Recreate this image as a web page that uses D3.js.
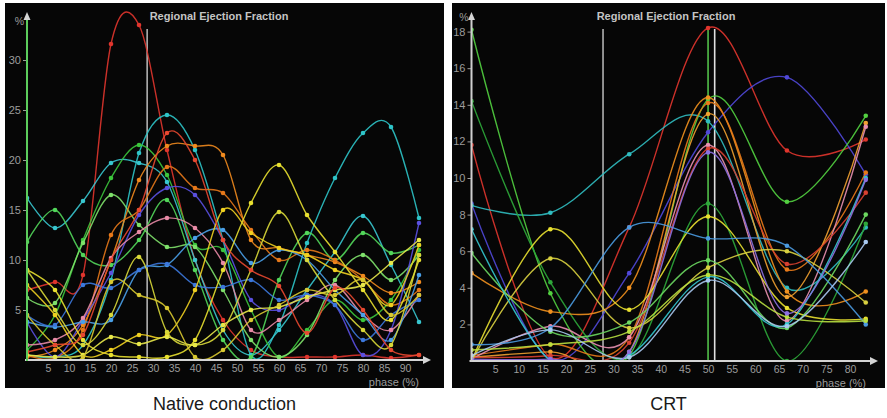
<!DOCTYPE html>
<html>
<head>
<meta charset="utf-8">
<script src="https://cdn.jsdelivr.net/npm/d3@7"></script>
<style>
  body { margin: 0; background: #fff; }
  svg { display: block; }
</style>
</head>
<body>
<svg id="chart" width="887" height="418"></svg>
<script>
// Native conduction: 15 frames per cycle
const phasesNative = [0, 6.67, 13.33, 20, 26.67, 33.33, 40, 46.67, 53.33, 60, 66.67, 73.33, 80, 86.67, 93.33];
const nativeColors = ["#e0352d", "#2ec4c8", "#38c6cf", "#3cc63c", "#7ee06a", "#52d65a",
  "#f08a1e", "#e6781a", "#5a50e0", "#e88aa6", "#4aa0e8", "#3c78dc",
  "#e8e030", "#f0d020", "#d8d838", "#e8e84a", "#d8c830", "#e84830"];
const nativeValues = [
  [7.0, 7.8, 8.5, 31.6, 33.5, 21.0, 10.0, 4.0, 1.0, 0.3, 0.3, 0.3, 0.5, 0.2, 0.5],
  [0.5, 0.3, 1.5, 8.0, 20.7, 24.5, 21.0, 12.0, 0.5, 3.5, 11.7, 18.2, 22.7, 23.3, 14.2],
  [16.2, 13.2, 15.9, 19.7, 19.7, 17.8, 10.0, 3.0, 0.5, 3.0, 7.0, 10.8, 14.4, 9.5, 3.8],
  [1.0, 4.5, 12.0, 18.2, 21.5, 18.5, 11.5, 11.0, 5.0, 0.3, 3.0, 6.0, 4.0, 6.0, 11.0],
  [6.2, 5.7, 11.7, 16.5, 13.5, 11.3, 11.3, 7.0, 2.0, 0.3, 2.5, 8.0, 10.5, 8.0, 10.5],
  [11.8, 15.0, 10.5, 9.5, 12.0, 16.0, 9.0, 2.0, 0.3, 8.0, 12.7, 10.0, 12.7, 10.7, 11.5],
  [0.3, 1.0, 3.5, 10.0, 18.0, 21.4, 21.4, 20.5, 12.0, 11.2, 10.5, 9.8, 8.4, 6.7, 7.8],
  [0.5, 0.2, 3.0, 12.5, 15.0, 19.3, 17.2, 16.7, 13.0, 10.0, 11.0, 10.0, 8.0, 5.5, 7.0],
  [3.8, 0.3, 4.0, 8.7, 14.5, 17.2, 16.5, 12.0, 6.0, 5.0, 6.5, 5.5, 0.5, 3.0, 13.7],
  [1.5, 2.0, 4.2, 10.2, 12.8, 14.2, 13.2, 9.7, 3.0, 4.0, 6.0, 7.5, 4.5, 3.0, 6.5],
  [3.8, 3.3, 3.8, 4.0, 9.0, 9.5, 12.2, 13.0, 9.7, 11.0, 10.0, 7.0, 4.5, 2.0, 8.5],
  [4.5, 3.5, 7.5, 7.2, 9.0, 9.6, 7.5, 7.3, 8.0, 6.0, 6.5, 5.5, 2.0, 4.5, 6.0],
  [9.0, 7.0, 2.0, 0.5, 0.3, 0.3, 2.0, 9.0, 15.7, 19.5, 14.5, 10.8, 7.0, 4.0, 10.0],
  [7.5, 4.5, 0.5, 1.0, 2.5, 2.5, 7.0, 15.0, 12.7, 11.2, 10.5, 9.0, 8.0, 5.5, 11.5],
  [9.0, 5.0, 1.5, 4.5, 10.3, 2.8, 1.5, 3.0, 9.0, 14.8, 10.0, 6.0, 3.0, 1.5, 10.5],
  [0.5, 0.3, 0.5, 2.3, 1.6, 2.3, 1.5, 3.5, 5.0, 5.3, 6.3, 7.0, 7.5, 9.7, 12.0],
  [4.5, 1.5, 0.3, 7.8, 6.5, 5.2, 0.3, 1.0, 4.0, 5.5, 7.0, 6.5, 8.0, 4.5, 6.5],
  [0.8, 1.5, 2.5, 10.0, 15.0, 22.7, 20.0, 12.0, 9.0, 7.4, 2.7, 7.2, 5.0, 1.0, 0.5]
];
const nativeXTicks = [5, 10, 15, 20, 25, 30, 35, 40, 45, 50, 55, 60, 65, 70, 75, 80, 85, 90];
const nativeYTicks = [5, 10, 15, 20, 25, 30];

// CRT: 6 frames per cycle
const phasesCRT = [0, 16.67, 33.33, 50, 66.67, 83.33];
const crtColors = ["#e0352d", "#5048d8", "#30bcc0", "#52d040", "#2ea83a", "#f0901e",
  "#e87a1a", "#f0a030", "#e890b0", "#d84030", "#e8e030", "#d8d040",
  "#6cd860", "#4a9ae0", "#34c8d0", "#b8e040", "#a8c8f0", "#8c70e0"];
const crtValues = [
  [11.8, 0.2, 7.3, 18.2, 11.5, 12.1],
  [8.6, 0.1, 4.8, 12.5, 15.5, 10.2],
  [8.5, 8.1, 11.3, 13.1, 4.0, 7.3],
  [18.1, 3.7, 0.3, 14.3, 8.7, 13.4],
  [14.2, 4.3, 0.2, 8.6, 0.0, 7.5],
  [4.8, 2.7, 4.0, 14.4, 3.8, 3.8],
  [0.3, 0.9, 1.3, 14.1, 5.0, 10.3],
  [0.2, 0.5, 0.5, 13.5, 3.5, 13.0],
  [0.1, 1.9, 1.3, 11.8, 2.2, 12.8],
  [0.2, 0.3, 1.0, 11.6, 5.3, 9.2],
  [0.0, 7.2, 2.8, 7.9, 2.9, 2.3],
  [0.0, 5.6, 1.8, 5.1, 6.0, 3.2],
  [5.9, 1.6, 2.1, 5.5, 1.8, 8.0],
  [0.9, 1.8, 7.3, 6.7, 6.3, 2.0],
  [7.2, 0.0, 0.3, 4.6, 2.0, 10.0],
  [0.6, 0.9, 1.6, 4.7, 2.4, 2.2],
  [0.3, 1.7, 0.2, 4.4, 1.9, 6.5],
  [0.1, 0.1, 0.5, 11.4, 2.6, 9.9]
];
const crtXTicks = [5, 10, 15, 20, 25, 30, 35, 40, 45, 50, 55, 60, 65, 70, 75, 80];
const crtYTicks = [2, 4, 6, 8, 10, 12, 14, 16, 18];

const titleText = "Regional Ejection Fraction";
const captions = ["Native conduction", "CRT"];

const svg = d3.select("#chart");

function drawPanel(cfg) {
  const g = svg.append("g");

  const x = d3.scaleLinear().domain(cfg.xDomain).range(cfg.xRange);
  const y = d3.scaleLinear().domain(cfg.yDomain).range(cfg.yRange);
  const x0 = x(0), y0 = y(0);

  // black panel
  g.append("rect")
    .attr("x", cfg.box[0]).attr("y", cfg.box[1])
    .attr("width", cfg.box[2]).attr("height", cfg.box[3])
    .attr("fill", "#060606");

  // title
  g.append("text")
    .attr("x", cfg.titleX).attr("y", 20)
    .attr("text-anchor", "middle")
    .attr("font-family", "Liberation Sans, Arial, sans-serif")
    .attr("font-weight", "bold")
    .attr("font-size", 11)
    .attr("fill", "#c4c4c4")
    .text(titleText);

  // phase markers
  cfg.markers.forEach(m => {
    g.append("line")
      .attr("x1", x(m.phase)).attr("x2", x(m.phase))
      .attr("y1", m.top).attr("y2", y0)
      .attr("stroke", m.color).attr("stroke-width", m.width || 1.3);
  });

  // curves, clipped at the x axis
  const clipId = "clip" + cfg.id;
  g.append("clipPath").attr("id", clipId)
    .append("rect")
    .attr("x", x0).attr("y", cfg.box[1])
    .attr("width", cfg.axisEnd - x0).attr("height", y0 - cfg.box[1]);

  const line = d3.line()
    .x((d, i) => x(cfg.phases[i]))
    .y(d => y(d))
    .curve(d3.curveCatmullRom.alpha(0));

  const curves = g.append("g").attr("clip-path", `url(#${clipId})`);
  cfg.values.forEach((vals, k) => {
    curves.append("path")
      .datum(vals)
      .attr("fill", "none")
      .attr("stroke", cfg.colors[k])
      .attr("stroke-width", 1.4)
      .attr("stroke-opacity", 0.9)
      .attr("d", line);
    curves.selectAll(null)
      .data(vals)
      .enter().append("circle")
      .attr("cx", (d, i) => x(cfg.phases[i]))
      .attr("cy", d => y(d))
      .attr("r", 2.3)
      .attr("fill", cfg.colors[k]);
  });

  // x axis
  const xAxis = g.append("g")
    .attr("transform", `translate(0,${y0})`)
    .call(d3.axisBottom(x).tickValues(cfg.xTicks).tickSize(0).tickPadding(5));
  xAxis.select(".domain").remove();
  xAxis.selectAll("text")
    .attr("font-family", "Liberation Sans, Arial, sans-serif")
    .attr("font-size", 10.5).attr("fill", "#9c9c9c");

  g.append("line")
    .attr("x1", x0 - 2).attr("x2", cfg.axisEnd)
    .attr("y1", y0).attr("y2", y0)
    .attr("stroke", "#d4d4d4").attr("stroke-width", 2);
  g.append("path")
    .attr("d", `M${cfg.axisEnd + 6},${y0} L${cfg.axisEnd - 2},${y0 - 4} L${cfg.axisEnd - 2},${y0 + 4} Z`)
    .attr("fill", "#d4d4d4");

  g.append("text")
    .attr("x", cfg.axisEnd - 6).attr("y", y0 + 26)
    .attr("text-anchor", "end")
    .attr("font-family", "Liberation Sans, Arial, sans-serif")
    .attr("font-size", 11).attr("fill", "#9c9c9c")
    .text("phase (%)");

  // y axis
  const yAxis = g.append("g")
    .attr("transform", `translate(${x0},0)`)
    .call(d3.axisLeft(y).tickValues(cfg.yTicks).tickSize(4).tickPadding(2));
  yAxis.select(".domain").remove();
  yAxis.selectAll("line").attr("stroke", "#9c9c9c");
  yAxis.selectAll("text")
    .attr("font-family", "Liberation Sans, Arial, sans-serif")
    .attr("font-size", 11).attr("fill", "#9c9c9c");

  g.append("line")
    .attr("x1", x0).attr("x2", x0)
    .attr("y1", y0 + 1).attr("y2", 18)
    .attr("stroke", cfg.yAxisColor).attr("stroke-width", 2);
  g.append("path")
    .attr("d", `M${x0},12 L${x0 - 3.5},20 L${x0 + 3.5},20 Z`)
    .attr("fill", "#d4d4d4");

  g.append("text")
    .attr("x", x0 - 3).attr("y", cfg.pctY)
    .attr("text-anchor", "end")
    .attr("font-family", "Liberation Sans, Arial, sans-serif")
    .attr("font-size", 10.5).attr("fill", "#9c9c9c")
    .text("%");

  // caption under the panel
  svg.append("text")
    .attr("x", cfg.box[0] + cfg.box[2] / 2).attr("y", 410)
    .attr("text-anchor", "middle")
    .attr("font-family", "Liberation Sans, Arial, sans-serif")
    .attr("font-size", 18).attr("fill", "#1a1a1a")
    .text(cfg.caption);
}

drawPanel({
  id: "native",
  box: [5, 3, 439, 385],
  xDomain: [0, 90], xRange: [27, 405],
  yDomain: [0, 30], yRange: [360, 60],
  axisEnd: 425,
  phases: phasesNative, values: nativeValues, colors: nativeColors,
  xTicks: nativeXTicks, yTicks: nativeYTicks,
  yAxisColor: "#5ccc5c",
  markers: [{ phase: 28.6, top: 29, color: "#d8d8d8" }],
  titleX: 219,
  pctY: 25,
  caption: captions[0]
});

drawPanel({
  id: "crt",
  box: [452, 3, 433, 385],
  xDomain: [0, 80], xRange: [471.5, 850],
  yDomain: [0, 18], yRange: [361, 31.6],
  axisEnd: 872,
  phases: phasesCRT, values: crtValues, colors: crtColors,
  xTicks: crtXTicks, yTicks: crtYTicks,
  yAxisColor: "#cfcfcf",
  markers: [
    { phase: 27.8, top: 29, color: "#d8d8d8" },
    { phase: 50, top: 27, color: "#52c04a", width: 1.6 },
    { phase: 51.4, top: 29, color: "#e0e0e0", width: 1.6 }
  ],
  titleX: 666,
  pctY: 21,
  caption: captions[1]
});
</script>
</body>
</html>
